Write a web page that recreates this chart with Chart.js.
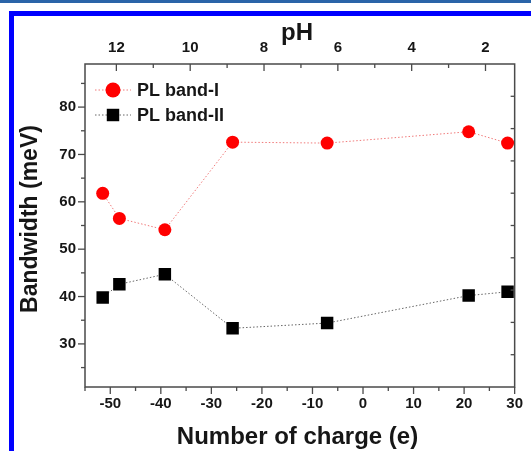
<!DOCTYPE html>
<html><head><meta charset="utf-8">
<script src="https://cdn.jsdelivr.net/npm/chart.js@4.4.0/dist/chart.umd.min.js"></script>
<style>
html,body{margin:0;padding:0;background:#fff;overflow:hidden;}
#wrap{position:relative;width:531px;height:451px;overflow:hidden;}
#topline{position:absolute;left:0;top:0;width:531px;height:3px;background:#2a64a8;}
#frame{position:absolute;left:9px;top:11px;width:700px;height:700px;border:5px solid #0000ff;box-sizing:border-box;}
canvas{position:absolute;left:0;top:0;}
</style></head><body>
<div id="wrap"><div id="topline"></div><div id="frame"></div><canvas id="c" width="531" height="451"></canvas></div>
<script>
const charge = [-51.5, -48.2, -39.2, -25.8, -7.1, 20.9, 28.6];
const bandI = [61.8, 56.5, 54.1, 72.6, 72.4, 74.8, 72.4];
const bandII = [39.8, 42.6, 44.7, 33.3, 34.4, 40.2, 41.0];
const xTicks = [-50, -40, -30, -20, -10, 0, 10, 20, 30];
const xMinor = [-55, -45, -35, -25, -15, -5, 5, 15, 25];
const yTicks = [30, 40, 50, 60, 70, 80];
const yMinor = [25, 35, 45, 55, 65, 75, 85];
const pHTicks = [12, 10, 8, 6, 4, 2];
const pHMinor = [11, 9, 7, 5, 3];
const rightTicks = [1, 2, 3, 4, 5, 6, 7, 8, 9];
const seriesNames = ['PL band-I', 'PL band-II'];

const FONT = '"Liberation Sans", Arial, sans-serif';
const TXT = '#161616';
const AX = '#4a4a4a';

const axisPlugin = {
  id: 'axisPlugin',
  afterDraw(chart) {
    const {ctx, chartArea: a, scales} = chart;
    ctx.save();
    ctx.strokeStyle = AX;
    ctx.lineWidth = 1.5;
    ctx.strokeRect(a.left, a.top, a.right - a.left, a.bottom - a.top);
    ctx.lineWidth = 1.3;
    const line = (x1, y1, x2, y2) => { ctx.beginPath(); ctx.moveTo(x1, y1); ctx.lineTo(x2, y2); ctx.stroke(); };
    xTicks.forEach(v => { const x = scales.x.getPixelForValue(v); line(x, a.bottom, x, a.bottom + 7); });
    xMinor.forEach(v => { const x = scales.x.getPixelForValue(v); line(x, a.bottom, x, a.bottom + 4); });
    yTicks.forEach(v => { const y = scales.y.getPixelForValue(v); line(a.left, y, a.left - 7, y); });
    yMinor.forEach(v => { const y = scales.y.getPixelForValue(v); line(a.left, y, a.left - 4, y); });
    pHTicks.forEach(v => { const x = scales.x2.getPixelForValue(v); line(x, a.top, x, a.top + 7); });
    pHMinor.forEach(v => { const x = scales.x2.getPixelForValue(v); line(x, a.top, x, a.top + 4); });
    rightTicks.forEach(v => { const y = scales.y2.getPixelForValue(v); line(a.right, y, a.right - 4, y); });

    // titles
    ctx.fillStyle = TXT;
    ctx.textAlign = 'center';
    ctx.textBaseline = 'alphabetic';
    ctx.font = 'bold 24px ' + FONT;
    ctx.fillText('Number of charge (e)', 297.5, 444);
    ctx.fillText('pH', 297, 40);
    ctx.save();
    ctx.translate(37, 219);
    ctx.rotate(-Math.PI / 2);
    ctx.font = 'bold 23px ' + FONT;
    ctx.fillText('Bandwidth (meV)', 0, 0);
    ctx.restore();

    // legend
    const ds = chart.data.datasets;
    const rows = [90, 115];
    ds.forEach((d, i) => {
      const y = rows[i];
      ctx.save();
      ctx.strokeStyle = d.borderColor;
      ctx.lineWidth = 1;
      ctx.setLineDash(d.borderDash);
      line(95, y, 131, y);
      ctx.restore();
      ctx.fillStyle = d.pointBackgroundColor;
      if (d.pointStyle === 'rect') {
        const s = d.pointRadius * Math.SQRT1_2;
        ctx.fillRect(113 - s, y - s, 2 * s, 2 * s);
      } else {
        ctx.beginPath(); ctx.arc(113, y, d.pointRadius + 1, 0, Math.PI * 2); ctx.fill();
      }
      ctx.fillStyle = TXT;
      ctx.textAlign = 'left';
      ctx.textBaseline = 'middle';
      ctx.font = 'bold 18px ' + FONT;
      ctx.fillText(d.label, 137, y + 1);
    });
    ctx.restore();
  }
};

const tickFont = {family: FONT, size: 15, weight: 'bold'};

new Chart(document.getElementById('c'), {
  type: 'scatter',
  data: {
    datasets: [
      {
        label: seriesNames[0],
        data: charge.map((x, i) => ({x, y: bandI[i]})),
        showLine: true,
        borderColor: '#f07a7a',
        borderWidth: 1,
        borderDash: [1.5, 2],
        pointStyle: 'circle',
        pointRadius: 6.5,
        pointBackgroundColor: '#ff0000',
        pointBorderWidth: 0,
        pointBorderColor: '#ff0000'
      },
      {
        label: seriesNames[1],
        data: charge.map((x, i) => ({x, y: bandII[i]})),
        showLine: true,
        borderColor: '#666666',
        borderWidth: 1,
        borderDash: [1.5, 2],
        pointStyle: 'rect',
        pointRadius: 8.8,
        pointBackgroundColor: '#000000',
        pointBorderWidth: 0,
        pointBorderColor: '#000000'
      }
    ]
  },
  options: {
    responsive: false,
    animation: false,
    devicePixelRatio: 1,
    layout: {padding: 0},
    plugins: {legend: {display: false}, title: {display: false}, tooltip: {enabled: false}},
    scales: {
      x: {
        type: 'linear', position: 'bottom', min: -55, max: 30,
        afterBuildTicks: s => { s.ticks = xTicks.map(v => ({value: v})); },
        afterFit: s => { s.height = 64; },
        grid: {display: false, drawTicks: false},
        border: {display: false},
        ticks: {padding: 8, font: tickFont, color: TXT, maxRotation: 0, autoSkip: false}
      },
      x2: {
        type: 'linear', position: 'top', min: 1.21, max: 12.85, reverse: true,
        afterBuildTicks: s => { s.ticks = pHTicks.map(v => ({value: v})); },
        afterFit: s => { s.height = 64; },
        grid: {display: false, drawTicks: false},
        border: {display: false},
        ticks: {padding: 7, font: tickFont, color: TXT, maxRotation: 0, autoSkip: false}
      },
      y: {
        type: 'linear', position: 'left', min: 20.9, max: 89.1,
        afterBuildTicks: s => { s.ticks = yTicks.map(v => ({value: v})); },
        afterFit: s => { s.width = 85; },
        grid: {display: false, drawTicks: false},
        border: {display: false},
        ticks: {padding: 9, font: tickFont, color: TXT, autoSkip: false}
      },
      y2: {
        type: 'linear', position: 'right', min: 0, max: 10,
        afterFit: s => { s.width = 10; },
        grid: {display: false, drawTicks: false},
        border: {display: false},
        ticks: {display: false}
      }
    }
  },
  plugins: [axisPlugin]
});
</script>
</body></html>
